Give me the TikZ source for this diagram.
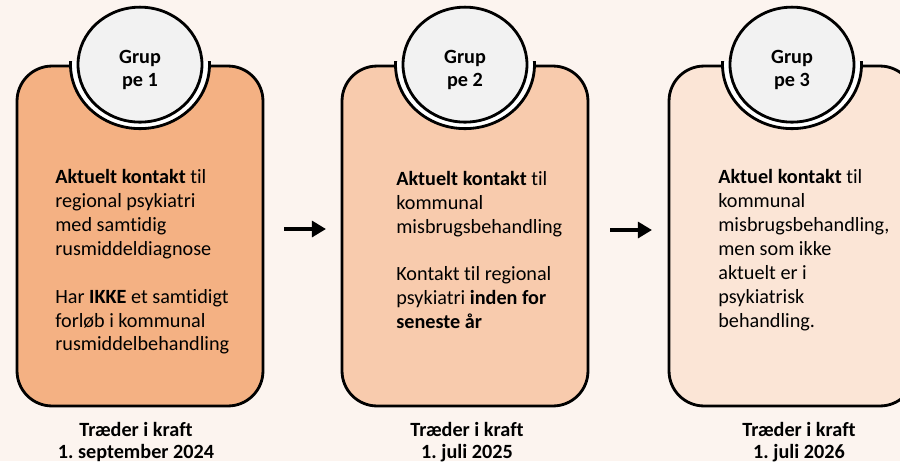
\documentclass[tikz,border=0pt]{standalone}
\usepackage{fontspec}
\setmainfont{Carlito}[Ligatures=NoCommon]
\usepackage{tikz}
\usetikzlibrary{shapes.geometric,arrows.meta}

\definecolor{bgcol}{HTML}{FCF4EF}
\definecolor{groupone}{HTML}{F4B183}
\definecolor{grouptwo}{HTML}{F8CBAD}
\definecolor{groupthree}{HTML}{FBE5D6}
\definecolor{badgecol}{HTML}{F2F2F2}

\tikzset{
  groupbox/.style={draw=black, line width=1.6pt, rounded corners=0.7cm,
    minimum width=4.92cm, minimum height=6.8cm, inner sep=0pt},
  ring/.style={ellipse, draw=black, line width=1.6pt, fill=white,
    minimum width=2.78cm, minimum height=2.56cm, inner sep=0pt},
  badge/.style={ellipse, draw=black, line width=1.6pt, fill=badgecol,
    minimum width=2.48cm, minimum height=2.3cm, inner sep=0pt},
  badgetext/.style={align=center, inner sep=0pt,
    font=\fontsize{11.5}{13}\selectfont\bfseries},
  bodytext/.style={anchor=west, align=left, inner sep=0pt,
    font=\fontsize{11.5}{13.6}\selectfont},
  datetext/.style={align=center, inner sep=0pt,
    font=\fontsize{11.5}{12.2}\selectfont\bfseries},
  flow/.style={line width=2.6pt, -{Triangle[length=8pt, width=9pt]}}
}

\begin{document}
\frenchspacing
\begin{tikzpicture}[x=0.02cm, y=-0.02cm]
        % Background
        \fill[bgcol] (0, 0) rectangle (900, 461);
        \useasboundingbox (0, 0) rectangle (900, 461);
        % Boxes
        \node[groupbox, fill=groupone] (box1) at (140, 236) {};
        \node[groupbox, fill=grouptwo] (box2) at (465, 236) {};
        \node[groupbox, fill=groupthree] (box3) at (792, 236) {};
        % Rings
        \foreach \b in {box1, box2, box3} {
          \begin{scope}
            \clip ([yshift=1.6pt]\b.north west) rectangle (\b.south east);
            \node[ring] at (\b.north) {};
          \end{scope}
        }
        % Badges
        \node[badge] (g1) at (box1.north) {};
        \node[badge] (g2) at (box2.north) {};
        \node[badge] (g3) at (box3.north) {};
        \node[badgetext] (l1) at ([yshift=-3pt]g1.center) {Grup\\pe 1};
        \node[badgetext] (l2) at ([yshift=-3pt]g2.center) {Grup\\pe 2};
        \node[badgetext] (l3) at ([yshift=-3pt]g3.center) {Grup\\pe 3};
        % Texts
        \node[bodytext] (t1) at (55, 262) {\textbf{Aktuelt kontakt} til\\regional psykiatri\\med samtidig\\rusmiddeldiagnose\\[13.6pt]Har \textbf{IKKE} et samtidigt\\forløb i kommunal\\rusmiddelbehandling};
        \node[bodytext] (t2) at (396, 250) {\textbf{Aktuelt kontakt} til\\kommunal\\misbrugsbehandling\\[13.6pt]Kontakt til regional\\psykiatri \textbf{inden for}\\\textbf{seneste år}};
        \node[bodytext] (t3) at (718, 250) {\textbf{Aktuel kontakt} til\\kommunal\\misbrugsbehandling,\\men som ikke\\aktuelt er i\\psykiatrisk\\behandling.};
        % Dates
        \node[datetext] (d1) at (136, 442) {Træder i kraft\\1. september 2024};
        \node[datetext] (d2) at (467, 442) {Træder i kraft\\1. juli 2025};
        \node[datetext] (d3) at (799, 442) {Træder i kraft\\1. juli 2026};
        % Arrows
        \coordinate (a1s) at (284, 229);
        \coordinate (a1e) at (326, 229);
        \coordinate (a2s) at (610, 230);
        \coordinate (a2e) at (652, 230);
        \draw[flow] (a1s) -- (a1e);
        \draw[flow] (a2s) -- (a2e);
\end{tikzpicture}
\end{document}
